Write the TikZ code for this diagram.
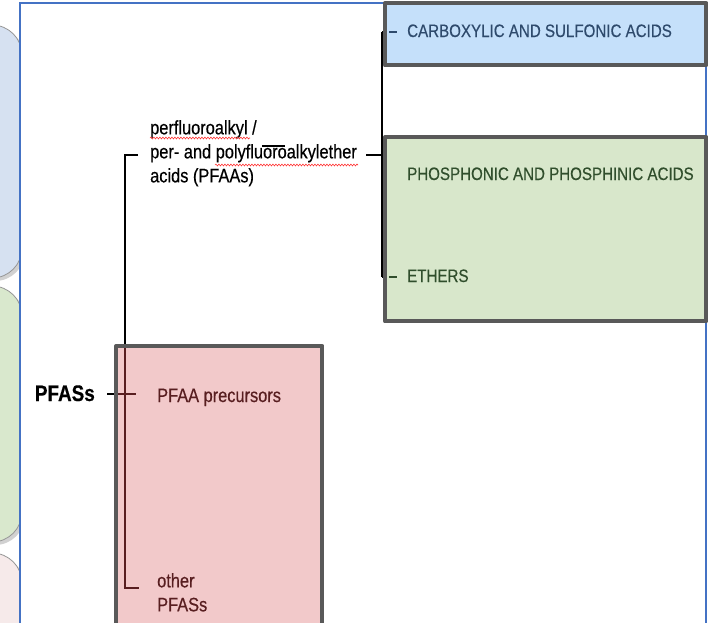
\documentclass[tikz,border=0pt]{standalone}
\usepackage{fontspec}
\setmainfont{Liberation Sans}[FakeStretch=0.84, FakeBold=0.4]
\usetikzlibrary{decorations.pathmorphing}
\definecolor{frameblue}{RGB}{68,114,196}
\definecolor{bluefill}{RGB}{197,224,250}
\definecolor{greenfill}{RGB}{216,231,203}
\definecolor{pinkfill}{RGB}{242,201,202}
\definecolor{bordergray}{RGB}{89,89,89}
\definecolor{bluetext}{RGB}{46,74,108}
\definecolor{greentext}{RGB}{48,78,44}
\definecolor{pinktext}{RGB}{88,30,32}
\definecolor{leftblue}{RGB}{214,225,241}
\definecolor{leftgreen}{RGB}{217,232,205}
\definecolor{leftpink}{RGB}{246,234,234}
\definecolor{shapegray}{RGB}{150,150,150}
\tikzset{
  boxfill/.style={draw=none, inner sep=0pt, anchor=north west},
  boxline/.style={draw=bordergray, line width=4pt, line join=round},
  treeline/.style={line width=1.8pt, black},
  leftshape/.style={draw=shapegray, line width=0.8pt, rounded corners=30pt},
  shadowshape/.style={fill=black, opacity=0.18, draw=none, rounded corners=30pt},
  captext/.style={inner sep=0pt, anchor=base west, font=\fontsize{18}{22}\selectfont},
  plaintext/.style={inner sep=0pt, font=\fontsize{19.5}{24}\selectfont},
  squiggle/.style={red!80!white, line width=0.6pt, decorate, decoration={snake, amplitude=0.9pt, segment length=3pt}}
}
\begin{document}
\begin{tikzpicture}[x=1pt,y=-1pt]
\useasboundingbox (0,0) rectangle (708,622);
\clip (0,0) rectangle (708,622);
% left rounded shapes (mostly hidden behind the frame)
\begin{scope}
  \clip (0,0) rectangle (21,622);
  \fill[shadowshape] (-58,28) rectangle (25,281);
  \draw[leftshape, fill=leftblue] (-60,25) rectangle (22,278);
  \fill[shadowshape] (-58,289) rectangle (25,545);
  \draw[leftshape, fill=leftgreen] (-60,286) rectangle (22,542);
  \fill[shadowshape] (-58,556) rectangle (25,703);
  \draw[leftshape, fill=leftpink] (-60,553) rectangle (22,700);
\end{scope}
% frame
\draw[frameblue, line width=1.4pt, fill=white] (20,3) rectangle (706,660);
% box fills
\node[boxfill, fill=bluefill, minimum width=321pt, minimum height=62pt] (bluebox) at (385,3) {};
\node[boxfill, fill=greenfill, minimum width=321pt, minimum height=184pt] (greenbox) at (385,137) {};
\node[boxfill, fill=pinkfill, minimum width=206pt, minimum height=300pt] (pinkbox) at (116,346) {};
% texts
\node[inner sep=0pt, anchor=base east, font=\fontsize{22.5}{26}\selectfont\bfseries] (pfass) at (95,401) {PFASs};
\node[plaintext, anchor=north west, align=left] (pfaa) at (150,120) {perfluoroalkyl /\\per- and polyfluoroalkylether\\acids (PFAAs)};
\node[captext, text=bluetext] (carb) at (407,37) {CARBOXYLIC AND SULFONIC ACIDS};
\node[captext, text=greentext] (phos) at (407,180) {PHOSPHONIC AND PHOSPHINIC ACIDS};
\node[captext, text=greentext] (ethers) at (407,282) {ETHERS};
\node[plaintext, anchor=base west, text=pinktext] (prec) at (157,402) {PFAA precursors};
\node[plaintext, anchor=north west, align=left, text=pinktext] (other) at (157,573) {other\\PFASs};
% tree junctions
\coordinate (jA) at (125,155);
\coordinate (jB) at (125,394);
\coordinate (jC) at (125,588);
\coordinate (jP) at (125,346);
\coordinate (rA) at (382,32);
\coordinate (rB) at (382,155);
\coordinate (rC) at (382,277);
% left tree
\draw[treeline] (107,394) -- (117,394);
\draw[treeline, pinktext] (117,394) -- (136,394);
\draw[treeline] ([xshift=-12pt]pfaa.west |- jA) -- (jA) -- (jP);
\draw[treeline, pinktext] (jP) -- (jB) -- (jC) -- (139,588);
% right tree
\draw[treeline] (pfaa.east |- rB) ++(9,0) -- (rB);
\draw[treeline] (rA) -- (rC);
\draw[treeline] (rA) -- (386,32);
\draw[treeline, bluetext] (389,32) -- (397,32);
\draw[treeline] (rC) -- (386,277);
\draw[treeline, greentext] (389,277) -- (397,277);
% box borders
\draw[boxline] (bluebox.north west) rectangle (bluebox.south east);
\draw[boxline] (greenbox.north west) rectangle (greenbox.south east);
\draw[boxline] (pinkbox.north west) rectangle (pinkbox.south east);
% spell-check marks
\draw[squiggle] (150,138) -- (250,138);
\draw[squiggle] (215,165) -- (358,165);
\draw[line width=1.2pt] (262,146) -- (285,146);
\end{tikzpicture}
\end{document}
